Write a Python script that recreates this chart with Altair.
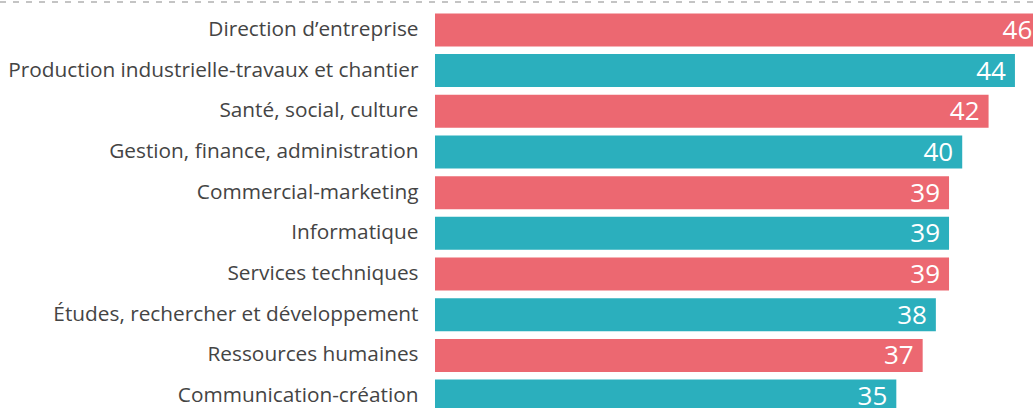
import altair as alt
import pandas as pd

categories = [
    "Direction d’entreprise",
    "Production industrielle-travaux et chantier",
    "Santé, social, culture",
    "Gestion, finance, administration",
    "Commercial-marketing",
    "Informatique",
    "Services techniques",
    "Études, rechercher et développement",
    "Ressources humaines",
    "Communication-création",
]
values = [46, 44, 42, 40, 39, 39, 39, 38, 37, 35]
groups = ["a", "b", "a", "b", "a", "b", "a", "b", "a", "b"]
colors = ["#EC6871", "#2BAFBD"]

df = pd.DataFrame({"cat": categories, "val": values, "grp": groups})

W = 598
H = 426

y = alt.Y("cat:N", sort=categories,
          scale=alt.Scale(paddingInner=0.19, paddingOuter=0.33),
          axis=alt.Axis(title=None, domain=False, ticks=False, labelPadding=17,
                        labelFont="Open Sans", labelFontSize=20.8, labelColor="#444444",
                        labelLimit=500))
x = alt.X("val:Q", scale=alt.Scale(domain=[0, 45.37], nice=False, zero=True),
          axis=None)

bars = alt.Chart(df).mark_bar().encode(
    x=x, y=y,
    color=alt.Color("grp:N", scale=alt.Scale(domain=["a", "b"], range=colors), legend=None),
)

text = alt.Chart(df).mark_text(align="right", baseline="middle", dx=-9, dy=1,
                               color="white", font="Open Sans", fontSize=26).encode(
    x=x, y=y, text="val:Q")

rule = alt.Chart(df).mark_rule(color="#C4C4C4", strokeWidth=2, strokeDash=[6, 7]).encode(
    x=alt.value(-435), x2=alt.value(W), y=alt.value(2))

chart = alt.layer(bars, text, rule).properties(
    width=W, height=H,
    autosize=alt.AutoSizeParams(type="none"),
    padding={"left": 435, "top": 0, "right": 0, "bottom": 0},
).configure_view(stroke=None)

chart.save("out.html", embed_options={"renderer": "svg", "actions": False})
